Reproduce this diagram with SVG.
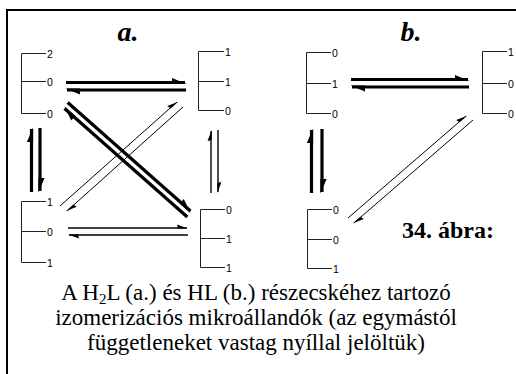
<svg xmlns="http://www.w3.org/2000/svg" width="516" height="374" viewBox="0 0 516 374">
<defs>
<style>
.br{fill:none;stroke:#222;stroke-width:1}
.lb{font-family:"Liberation Sans",Arial,sans-serif;font-size:10.5px;fill:#000}
.thick{stroke:#000;stroke-width:3.2;fill:none;marker-end:url(#hk)}
.thin{stroke:#000;stroke-width:1;fill:none;marker-end:url(#hn)}
.mid{stroke:#000;stroke-width:1.4;fill:none;marker-end:url(#hn)}
.ttl{font-family:"Liberation Serif","Times New Roman",serif;font-weight:bold;font-style:italic;font-size:28px;fill:#000}
.cap{font-family:"Liberation Serif","Times New Roman",serif;font-size:23px;fill:#000}
</style>
<marker id="hk" markerUnits="userSpaceOnUse" markerWidth="30" markerHeight="30" refX="0" refY="0" viewBox="-20 -10 30 20" orient="auto" overflow="visible">
<path d="M1.5,1.6 L-13,-4.6 L-13,1.6 Z" fill="#000"/>
</marker>
<marker id="hn" markerUnits="userSpaceOnUse" markerWidth="30" markerHeight="30" refX="0" refY="0" viewBox="-20 -10 30 20" orient="auto" overflow="visible">
<path d="M1,0.6 L-10,-3.4 L-9,0.6 Z" fill="#000"/>
</marker>
</defs>
<rect x="0" y="0" width="516" height="374" fill="#fff"/>
<rect x="7" y="10" width="530" height="390" fill="#fff" stroke="#000" stroke-width="2"/>

<text class="ttl" x="128" y="41" text-anchor="middle">a.</text>
<text class="ttl" x="411" y="41" text-anchor="middle">b.</text>

<g id="a1">
<path class="br" d="M46,53.5 H21.5 V113.5 H46 M21.5,81.5 H46"/>
<text class="lb" x="47" y="57.5">2</text>
<text class="lb" x="47" y="85.5">0</text>
<text class="lb" x="47" y="117.5">0</text>
</g>
<g id="a2">
<path class="br" d="M224,51.5 H198.5 V110.5 H224 M198.5,81.5 H224"/>
<text class="lb" x="225" y="55.5">1</text>
<text class="lb" x="225" y="85.5">1</text>
<text class="lb" x="225" y="114.5">0</text>
</g>
<g id="a3">
<path class="br" d="M46,201.5 H21.5 V262.5 H46 M21.5,231.5 H46"/>
<text class="lb" x="47" y="205.5">1</text>
<text class="lb" x="47" y="235.5">0</text>
<text class="lb" x="47" y="266.5">1</text>
</g>
<g id="a4">
<path class="br" d="M225,209.5 H200.5 V267.5 H225 M200.5,238.5 H225"/>
<text class="lb" x="226" y="213.5">0</text>
<text class="lb" x="226" y="242.5">1</text>
<text class="lb" x="226" y="271.5">1</text>
</g>
<g id="b1">
<path class="br" d="M331,52.5 H306.5 V113.5 H331 M306.5,83.5 H331"/>
<text class="lb" x="332" y="56.5">0</text>
<text class="lb" x="332" y="87.5">1</text>
<text class="lb" x="332" y="117.5">0</text>
</g>
<g id="b2">
<path class="br" d="M507,51.5 H482.5 V113.5 H507 M482.5,83.5 H507"/>
<text class="lb" x="508" y="55.5">1</text>
<text class="lb" x="508" y="87.5">0</text>
<text class="lb" x="508" y="117.5">0</text>
</g>
<g id="b3">
<path class="br" d="M332,209.5 H307.5 V268.5 H332 M307.5,239.5 H332"/>
<text class="lb" x="333" y="213.5">0</text>
<text class="lb" x="333" y="243.5">0</text>
<text class="lb" x="333" y="272.5">1</text>
</g>

<g id="connectors">
<line class="thick" x1="66" y1="82.5" x2="185" y2="82.5"/>
<line class="thick" x1="186" y1="90" x2="67" y2="90"/>
<line class="thick" x1="67.7" y1="102.5" x2="190.5" y2="211"/>
<line class="thick" x1="187.3" y1="217" x2="64.5" y2="108.5"/>
<line class="thin" x1="60" y1="206" x2="177" y2="102"/>
<line class="thin" x1="183" y1="107" x2="67" y2="211"/>
<line class="thick" x1="31.5" y1="192" x2="31.5" y2="129"/>
<line class="thick" x1="40" y1="128" x2="40" y2="191"/>
<line class="mid" x1="211" y1="193" x2="211" y2="131"/>
<line class="mid" x1="218" y1="130" x2="218" y2="192"/>
<line class="mid" x1="68" y1="228" x2="187" y2="228"/>
<line class="mid" x1="188" y1="235" x2="69" y2="235"/>
<line class="thick" x1="351" y1="79.5" x2="468" y2="79.5"/>
<line class="thick" x1="469" y1="87" x2="352" y2="87"/>
<line class="thick" x1="311.5" y1="193" x2="311.5" y2="130"/>
<line class="thick" x1="322" y1="129" x2="322" y2="192"/>
<line class="thin" x1="348" y1="218" x2="466" y2="116"/>
<line class="thin" x1="473" y1="120" x2="354" y2="223"/>
</g>

<text x="448" y="238" text-anchor="middle" style="font-family:'Liberation Serif','Times New Roman',serif;font-weight:bold;font-size:24px">34. ábra:</text>

<text class="cap" text-anchor="middle" x="256" y="300">A H<tspan font-size="15" dy="4">2</tspan><tspan dy="-4">L (a.) és HL (b.) részecskéhez tartozó</tspan></text>
<text class="cap" text-anchor="middle" x="256" y="325">izomerizációs mikroállandók (az egymástól</text>
<text class="cap" text-anchor="middle" x="256" y="350">függetleneket vastag nyíllal jelöltük)</text>
</svg>
